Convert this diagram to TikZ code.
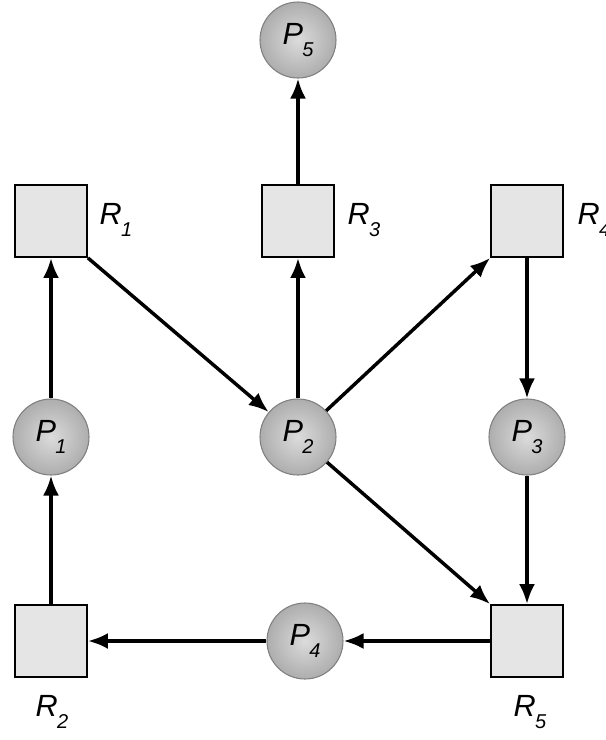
\documentclass[tikz,border=0pt]{standalone}
\usepackage{fontspec}
\setsansfont{Liberation Sans}
\usetikzlibrary{arrows.meta}
\newcommand{\lbl}[2]{#1\kern-0.5pt\raisebox{-0.42em}{\fontsize{15}{15}\selectfont #2}}

\begin{document}
\begin{tikzpicture}[x=0.75pt, y=-0.75pt,
		every node/.style={font=\sffamily\itshape\fontsize{23}{26}\selectfont, inner sep=1pt},
		res/.style={draw, rectangle, line width=1.4pt, fill=black!10, minimum size=54pt},
		proc/.style={circle, draw=black!50, line width=0.8pt, inner color=black!14, outer color=black!32, minimum size=57pt},
		edge/.style={line width=2.6pt, -{Latex[length=15pt, width=12pt]}}]
	\useasboundingbox (0,0) rectangle (606,740);
	% resources
	\node[res] (r1) at (51, 221) {};
	\node[res] (r3) at (298, 221) {};
	\node[res] (r4) at (527, 221) {};
	\node[res] (r2) at (51, 641) {};
	\node[res] (r5) at (527, 641) {};
	\node[anchor=west] (l1) at (98, 220) {\lbl{R}{1}};
	\node[anchor=west] (l3) at (346, 220) {\lbl{R}{3}};
	\node[anchor=west] (l4) at (576, 220) {\lbl{R}{4}};
	\node (l2) at (52, 712) {\lbl{R}{2}};
	\node (l5) at (530, 712) {\lbl{R}{5}};
	% processes
	\node[proc] (p5) at (298, 40) {\lbl{P}{5}};
	\node[proc] (p1) at (51, 437) {\lbl{P}{1}};
	\node[proc] (p2) at (298, 437) {\lbl{P}{2}};
	\node[proc] (p3) at (527, 437) {\lbl{P}{3}};
	\node[proc] (p4) at (305, 641) {\lbl{P}{4}};

	\draw[edge] (r2) to (p1);
	\draw[edge] (p1) to (r1);
	\draw[edge] (r1.south east) to (p2);
	\draw[edge] (p2) to (r3);
	\draw[edge] (r3) to (p5);
	\draw[edge] (p2) to (r4.south west);
	\draw[edge] (r4) to (p3);
	\draw[edge] (p3) to (r5);
	\draw[edge] (p2) to (r5.north west);
	\draw[edge] (r5) to (p4);
	\draw[edge] (p4) to (r2);
\end{tikzpicture}
\end{document}
